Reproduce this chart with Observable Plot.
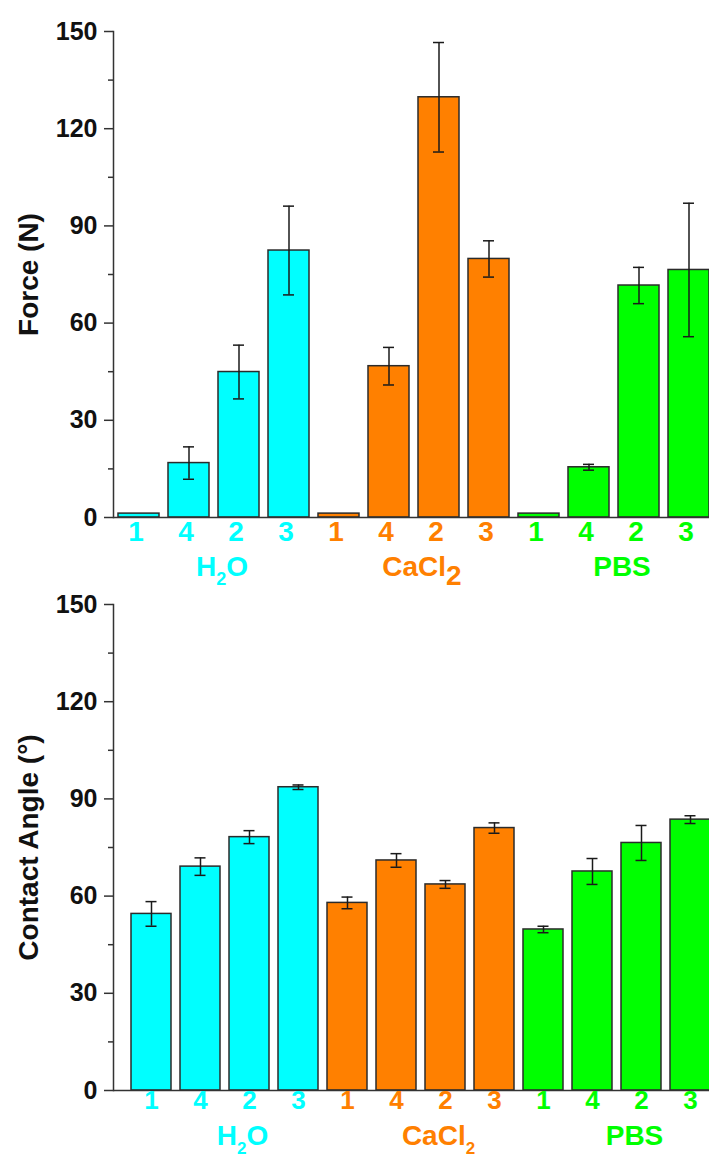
<!DOCTYPE html>
<html><head><meta charset="utf-8">
<script src="https://cdn.jsdelivr.net/npm/d3@7"></script>
<script src="https://cdn.jsdelivr.net/npm/@observablehq/plot@0.6"></script>
<style>
html,body{margin:0;padding:0;background:#fff;overflow:hidden;width:709px;height:1165px}
#chart svg{display:block}
</style></head><body><div id="chart"></div>
<script>
const groups = ["H2O", "CaCl2", "PBS"];
const samples = ["1", "4", "2", "3"];
const groupColors = ["#00ffff", "#ff8000", "#00ff00"];
const yTicks = [0, 30, 60, 90, 120, 150];
const yMinorTicks = [15, 45, 75, 105, 135];
const forceMean = [1.2, 16.8, 44.9, 82.4, 1.2, 46.7, 129.7, 79.8, 1.2, 15.5, 71.6, 76.4];
const forceErr  = [0, 5.0, 8.3, 13.7, 0, 5.8, 16.9, 5.6, 0, 0.9, 5.6, 20.6];
const angleMean = [54.5, 69.1, 78.2, 93.6, 57.9, 71.0, 63.6, 81.0, 49.7, 67.6, 76.4, 83.6];
const angleErr  = [3.8, 2.7, 2.0, 0.7, 1.8, 2.1, 1.2, 1.6, 1.0, 4.0, 5.4, 1.2];
const titles = ["Force (N)", "Contact Angle (°)"];

const FONT = '"Liberation Sans", Arial, Helvetica, sans-serif';

function rows(means, errs) {
  const out = [];
  groups.forEach((g, gi) => samples.forEach((s, si) => {
    const i = gi * samples.length + si;
    out.push({key: g + "|" + s, group: g, sample: s, value: means[i], err: errs[i]});
  }));
  return out;
}

function subscripts(svg, sizes, dyPx) {
  d3.select(svg).selectAll("text").each(function() {
    const t = this.textContent;
    const m = /^([A-Za-z]+)(\d)([A-Za-z]*)$/.exec(t);
    if (!m || !(t in sizes)) return;
    const el = d3.select(this);
    el.selectAll("*").remove();
    el.text(null);
    el.append("tspan").text(m[1]);
    el.append("tspan").attr("font-size", sizes[t]).attr("dy", dyPx).text(m[2]);
    if (m[3]) el.append("tspan").attr("dy", -dyPx).text(m[3]);
  });
}

function chart(o) {
  const data = o.data;
  const keys = data.map(d => d.key);
  const withErr = data.filter(d => d.err > 0);
  const groupAnchors = groups.map(g => ({group: g, key: g + "|" + samples[2]}));
  const errStroke = {stroke: "#1a1a1a", strokeWidth: 1.5};
  const svg = Plot.plot({
    width: 709, height: o.height, marginTop: o.marginTop, marginBottom: o.marginBottom,
    marginLeft: 113, marginRight: 0,
    style: {fontFamily: FONT, overflow: "visible", background: "transparent", maxWidth: "none"},
    x: {type: "band", domain: keys, range: o.range, paddingInner: o.paddingInner, paddingOuter: o.paddingOuter, axis: null},
    y: {domain: [0, 150], axis: null},
    color: {domain: groups, range: groupColors},
    marks: [
      Plot.barY(data, {x: "key", y: "value", fill: "group", stroke: "#2b2b2b", strokeWidth: 1.5}),
      Plot.ruleX(withErr, {x: "key", y1: d => d.value - d.err, y2: d => d.value + d.err, ...errStroke}),
      Plot.tickY(withErr, {x: "key", y: d => d.value + d.err, insetLeft: o.capInset, insetRight: o.capInset, ...errStroke}),
      Plot.tickY(withErr, {x: "key", y: d => d.value - d.err, insetLeft: o.capInset, insetRight: o.capInset, ...errStroke}),
      Plot.ruleY([0], {stroke: "#333", strokeWidth: 1.5}),
      Plot.frame({anchor: "left", stroke: "#333", strokeWidth: 1.5}),
      Plot.axisY({ticks: yTicks, tickSize: 9, tickPadding: 7, fontSize: 25, fontWeight: "bold", fill: "#111", stroke: "#333", strokeWidth: 1.5, label: null}),
      Plot.axisY({ticks: yMinorTicks, tickSize: 5, tickFormat: () => "", stroke: "#333", strokeWidth: 1.5, label: null}),
      Plot.text(data, {x: "key", text: "sample", fill: "group", frameAnchor: "bottom", dy: o.tickDy, dx: o.tickDx, fontSize: o.tickFont, fontWeight: "bold"}),
      Plot.text(groupAnchors, {x: "key", text: "group", fill: "group", frameAnchor: "bottom", dy: o.groupDy, dx: o.groupDx, fontSize: 28, fontWeight: "bold"}),
      Plot.text([o.title], {text: d => d, frameAnchor: "left", textAnchor: "middle", dx: -84, dy: o.titleDy, rotate: -90, fontSize: 28, fontWeight: "bold", fill: "#111"})
    ]
  });
  subscripts(svg, o.subSizes, 9);
  return svg;
}

const root = document.getElementById("chart");
root.appendChild(chart({
  data: rows(forceMean, forceErr), title: titles[0],
  height: 590, marginTop: 31, marginBottom: 73,
  range: [113, 714], paddingInner: 0.18, paddingOuter: 0.1,
  tickDy: 23, tickDx: -3, tickFont: 28, groupDy: 58, groupDx: -17, capInset: 15, titleDy: 0,
  subSizes: {"H2O": 18, "CaCl2": 28}
}));
root.appendChild(chart({
  data: rows(angleMean, angleErr), title: titles[1],
  height: 575, marginTop: 14, marginBottom: 75,
  range: [113, 727], paddingInner: 0.19, paddingOuter: 0.303,
  tickDy: 18.5, tickDx: 0, tickFont: 26, groupDy: 54, groupDx: -7, capInset: 14.5, titleDy: 0,
  subSizes: {"H2O": 17, "CaCl2": 17}
}));
</script>
</body></html>
